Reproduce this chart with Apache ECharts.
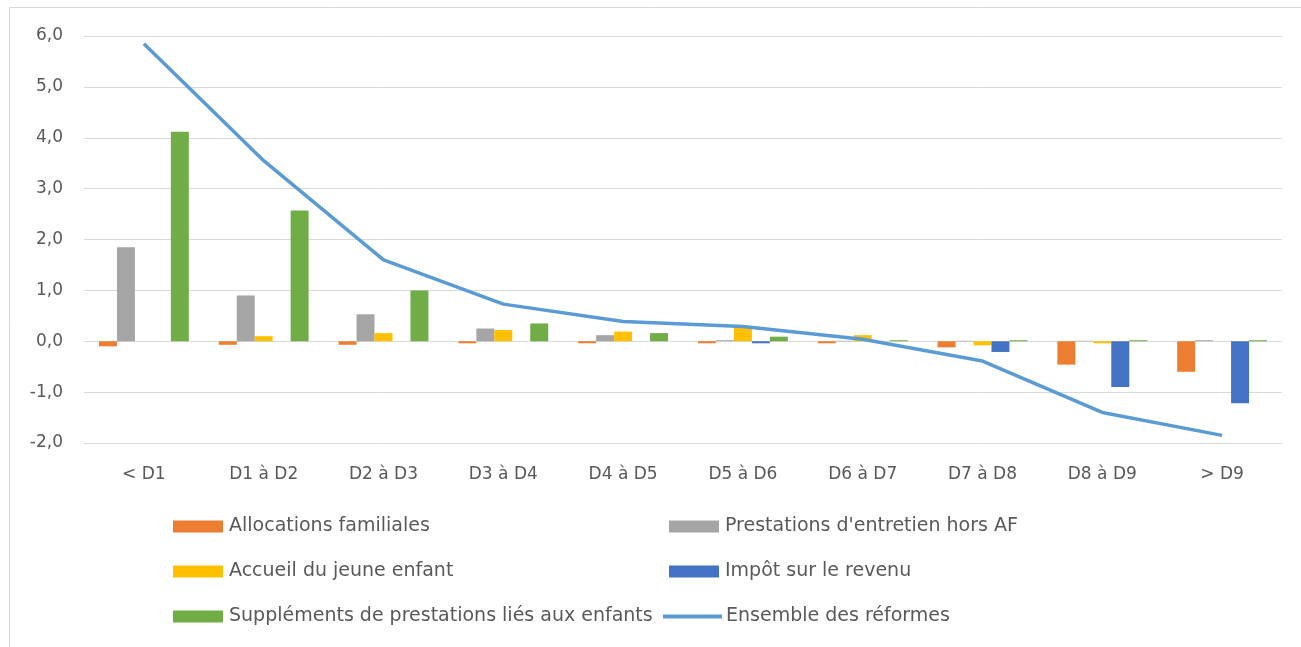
<!DOCTYPE html>
<html lang="fr">
<head>
<meta charset="utf-8">
<title>Effet des réformes par tranche de niveau de vie</title>
<script src="https://cdn.jsdelivr.net/npm/echarts@6/dist/echarts.min.js"></script>
<style>
  html, body { margin: 0; padding: 0; background: #ffffff; }
  #chart { width: 1301px; height: 647px; }
</style>
</head>
<body>
<div id="chart"></div>
<script>
// Tranches de niveau de vie (déciles)
const categories = ['< D1', 'D1 à D2', 'D2 à D3', 'D3 à D4', 'D4 à D5', 'D5 à D6', 'D6 à D7', 'D7 à D8', 'D8 à D9', '> D9'];

// Effet de chaque réforme, en points
const allocationsFamiliales = [-0.10, -0.07, -0.07, -0.04, -0.04, -0.04, -0.04, -0.12, -0.46, -0.60];
const prestationsEntretien  = [1.85, 0.90, 0.53, 0.25, 0.12, 0.02, 0.01, 0.01, 0.01, 0.02];
const accueilJeuneEnfant    = [0.00, 0.10, 0.16, 0.22, 0.19, 0.28, 0.12, -0.08, -0.04, 0.00];
const impotRevenu           = [0.00, 0.00, 0.00, 0.00, 0.00, -0.04, 0.00, -0.21, -0.90, -1.22];
const supplementsEnfants    = [4.12, 2.57, 1.00, 0.35, 0.16, 0.09, 0.02, 0.02, 0.02, 0.02];
const ensembleReformes      = [5.85, 3.55, 1.60, 0.73, 0.39, 0.29, 0.04, -0.39, -1.40, -1.85];

// Graduations de l'axe vertical
const yTicks = { min: -2, max: 6, step: 1 };

const seriesNames = {
  af: 'Allocations familiales',
  pe: "Prestations d'entretien hors AF",
  aje: 'Accueil du jeune enfant',
  ir: 'Impôt sur le revenu',
  sup: 'Suppléments de prestations liés aux enfants',
  tot: 'Ensemble des réformes'
};

const colors = {
  af: '#ED7D31', pe: '#A5A5A5', aje: '#FFC000', ir: '#4472C4', sup: '#70AD47', tot: '#5B9BD5'
};

const textColor = '#595959';
const gridColor = '#D9D9D9';
const legendFont = { fontFamily: 'DejaVu Sans', fontSize: 19, color: textColor };

function bar(key, data) {
  return {
    name: seriesNames[key],
    type: 'bar',
    data: data,
    barGap: '0%',
    barCategoryGap: '25%',
    itemStyle: { color: colors[key] },
    emphasis: { disabled: true }
  };
}

// One legend block per entry so the two columns line up exactly
function legendItem(key, left, centerY, isLine) {
  return {
    data: [{ name: seriesNames[key], icon: 'rect' }],
    left: left,
    top: centerY - 11,
    padding: 0,
    itemWidth: isLine ? 59 : 50,
    itemHeight: isLine ? 4 : 12,
    itemGap: 0,
    textStyle: Object.assign({ padding: [0, 0, 0, isLine ? -1 : 1] }, legendFont),
    selectedMode: false
  };
}

const rowY = [528, 573, 618];
const col1 = 173, col2 = 669;

const chart = echarts.init(document.getElementById('chart'), null, { renderer: 'canvas' });

chart.setOption({
  animation: false,
  backgroundColor: '#ffffff',
  graphic: [{
    type: 'rect',
    shape: { x: 9.5, y: 7.5, width: 1400, height: 700 },
    style: { fill: 'none', stroke: gridColor, lineWidth: 1 },
    silent: true
  }],
  grid: { left: 84, right: 19, top: 36, bottom: 204 },
  legend: [
    legendItem('af', col1, rowY[0]),
    legendItem('aje', col1, rowY[1]),
    legendItem('sup', col1, rowY[2]),
    legendItem('pe', col2, rowY[0]),
    legendItem('ir', col2, rowY[1]),
    legendItem('tot', 663, rowY[2], true)
  ],
  xAxis: {
    type: 'category',
    data: categories,
    axisLine: { show: false, onZero: false },
    axisTick: { show: false },
    axisLabel: { color: textColor, fontFamily: 'DejaVu Sans', fontSize: 17, margin: 23 }
  },
  yAxis: {
    type: 'value',
    min: yTicks.min,
    max: yTicks.max,
    interval: yTicks.step,
    axisLine: { show: false },
    axisTick: { show: false },
    splitLine: { lineStyle: { color: gridColor, width: 1 } },
    axisLabel: {
      color: textColor,
      fontFamily: 'DejaVu Sans',
      fontSize: 17,
      margin: 21,
      formatter: v => v.toFixed(1).replace('.', ',')
    }
  },
  series: [
    bar('af', allocationsFamiliales),
    bar('pe', prestationsEntretien),
    bar('aje', accueilJeuneEnfant),
    bar('ir', impotRevenu),
    bar('sup', supplementsEnfants),
    {
      name: seriesNames.tot,
      type: 'line',
      data: ensembleReformes,
      symbol: 'none',
      z: 5,
      lineStyle: { color: colors.tot, width: 3.5 },
      itemStyle: { color: colors.tot },
      emphasis: { disabled: true }
    }
  ]
});
</script>
</body>
</html>
